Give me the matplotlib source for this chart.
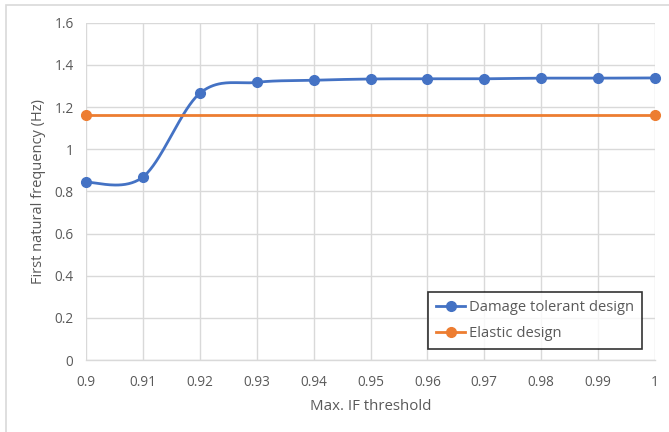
import numpy as np
import matplotlib
matplotlib.use("Agg")
import matplotlib.pyplot as plt
from matplotlib.patches import Rectangle

# Data
thresholds = [0.90, 0.91, 0.92, 0.93, 0.94, 0.95, 0.96, 0.97, 0.98, 0.99, 1.00]
damage_tolerant = [0.843, 0.868, 1.265, 1.317, 1.327, 1.333, 1.334, 1.334, 1.337, 1.337, 1.338]
elastic_x = [0.90, 1.00]
elastic = [1.160, 1.160]

x_ticks = [0.9, 0.91, 0.92, 0.93, 0.94, 0.95, 0.96, 0.97, 0.98, 0.99, 1]
x_tick_labels = ["0.9", "0.91", "0.92", "0.93", "0.94", "0.95", "0.96", "0.97", "0.98", "0.99", "1"]
y_ticks = [0, 0.2, 0.4, 0.6, 0.8, 1.0, 1.2, 1.4, 1.6]
y_tick_labels = ["0", "0.2", "0.4", "0.6", "0.8", "1", "1.2", "1.4", "1.6"]

BLUE = "#4472C4"
ORANGE = "#ED7D31"
GRID = "#D9D9D9"
TXT = "#595959"


def smooth_curve(xs, ys, n=40):
    """Piecewise cubic Bezier through the points (spreadsheet-style smoothing)."""
    xs = np.asarray(xs, float)
    ys = np.asarray(ys, float)
    px = np.concatenate([[xs[0]], xs, [xs[-1]]])
    py = np.concatenate([[ys[0]], ys, [ys[-1]]])
    out_x, out_y = [], []
    t = np.linspace(0, 1, n)
    for i in range(1, len(px) - 2):
        p0 = np.array([px[i], py[i]])
        p3 = np.array([px[i + 1], py[i + 1]])
        p1 = p0 + (np.array([px[i + 1], py[i + 1]]) - np.array([px[i - 1], py[i - 1]])) / 6
        p2 = p3 - (np.array([px[i + 2], py[i + 2]]) - np.array([px[i], py[i]])) / 6
        b = ((1 - t) ** 3)[:, None] * p0 + (3 * (1 - t) ** 2 * t)[:, None] * p1 \
            + (3 * (1 - t) * t ** 2)[:, None] * p2 + (t ** 3)[:, None] * p3
        out_x.extend(b[:, 0])
        out_y.extend(b[:, 1])
    return np.array(out_x), np.array(out_y)


plt.rcParams["font.family"] = ["Open Sans", "DejaVu Sans"]

fig = plt.figure(figsize=(6.69, 4.32), dpi=100)
W, H = 669, 432
ax = fig.add_axes([86 / W, 1 - 360 / H, (655 - 86) / W, (360 - 22.7) / H])

# outer chart border
fig.patches.append(Rectangle((6 / W, -0.1), 1.1, (H - 5) / H + 0.1, transform=fig.transFigure,
                             fill=False, edgecolor="#D9D9D9", linewidth=1.2))

ax.set_xlim(0.9, 1.0)
ax.set_ylim(0, 1.6)
ax.set_xticks(x_ticks)
ax.set_xticklabels(x_tick_labels)
ax.set_yticks(y_ticks)
ax.set_yticklabels(y_tick_labels)
ax.grid(True, color=GRID, linewidth=1.0)
ax.set_axisbelow(True)
for s in ["top", "right", "left"]:
    ax.spines[s].set_visible(False)
ax.spines["bottom"].set_color(GRID)
ax.spines["bottom"].set_linewidth(1.0)
ax.tick_params(length=0, labelsize=9.8, colors=TXT)
ax.tick_params(axis="x", pad=11)
ax.tick_params(axis="y", pad=9)

sx, sy = smooth_curve(thresholds, damage_tolerant)
ax.plot(sx, sy, color=BLUE, linewidth=2.0, clip_on=False, zorder=3)
ax.plot(thresholds, damage_tolerant, linestyle="none", marker="o", markersize=7,
        color=BLUE, clip_on=False, zorder=4)
ax.plot(elastic_x, elastic, color=ORANGE, linewidth=2.0, marker="o", markersize=7,
        clip_on=False, zorder=3)

ax.set_xlabel("Max. IF threshold", fontsize=10.8, color=TXT, labelpad=6)
ax.set_ylabel("First natural frequency (Hz)", fontsize=10.5, color=TXT, labelpad=6)

h1, = ax.plot([], [], color=BLUE, linewidth=2.0, marker="o", markersize=7)
h2, = ax.plot([], [], color=ORANGE, linewidth=2.0, marker="o", markersize=7)
leg = ax.legend([h1, h2], ["Damage tolerant design", "Elastic design"],
                loc="lower right", bbox_to_anchor=((642 - 86) / (655 - 86), (360 - 349) / (360 - 22.7)),
                frameon=True, fancybox=False, fontsize=10.6, handlelength=1.95,
                handletextpad=0.25, labelspacing=0.75, borderpad=0.55, borderaxespad=0)
leg.get_frame().set_edgecolor("black")
leg.get_frame().set_linewidth(1.2)
for t in leg.get_texts():
    t.set_color(TXT)

fig.savefig("out.png", dpi=100)
